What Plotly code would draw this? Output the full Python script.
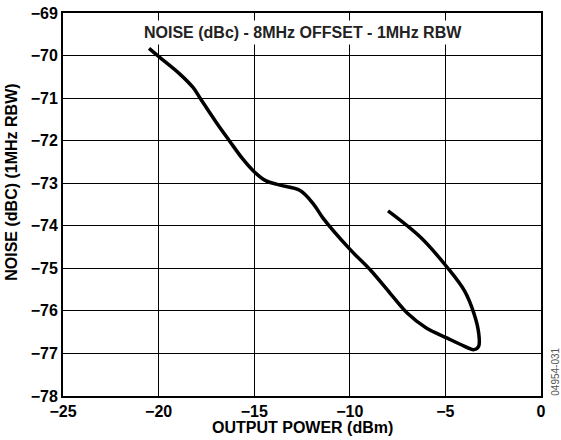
import plotly.graph_objects as go

# output power (dBm) and noise (dBc) in drawing order
power_dbm = [-20.5, -20.0, -18.9, -18.2, -17.8, -17.0, -16.3, -15.6, -15.0, -14.4,
             -13.7, -12.6, -11.9, -11.4, -10.0, -8.9, -7.9, -7.0, -6.0, -4.9,
             -4.2, -3.5, -3.26, -3.26, -3.5, -4.0, -4.9, -6.3, -8.0]
noise_dbc = [-69.83, -70.02, -70.43, -70.75, -71.02, -71.56, -72.0, -72.43, -72.73, -72.94,
             -73.04, -73.17, -73.49, -73.82, -74.55, -75.05, -75.58, -76.05, -76.40, -76.64,
             -76.79, -76.91, -76.83, -76.52, -76.07, -75.53, -74.98, -74.27, -73.65]

x_ticks = [-25, -20, -15, -10, -5, 0]
y_ticks = [-78, -77, -76, -75, -74, -73, -72, -71, -70, -69]

FONT = "Liberation Sans, Arial, sans-serif"
BOLD16 = dict(family=FONT, size=16, color='black', weight='bold')

fig = go.Figure()
fig.add_trace(go.Scatter(
    x=power_dbm, y=noise_dbc, mode='lines',
    line=dict(color='black', width=3.5, shape='spline', smoothing=1.0),
    hoverinfo='skip'
))

# boxed title inside the plot
fig.add_annotation(
    text="NOISE (dBc) - 8MHz OFFSET - 1MHz RBW",
    xref='paper', yref='paper', x=0.503, y=0.950, yanchor='middle',
    showarrow=False, bgcolor='white', borderpad=3,
    font=dict(BOLD16, color='#222')
)
# axis titles
fig.add_annotation(
    text="OUTPUT POWER (dBm)", xref='paper', yref='paper',
    x=0.5, y=-0.081, yanchor='middle', showarrow=False, font=BOLD16
)
fig.add_annotation(
    text="NOISE (dBC) (1MHz RBW)", textangle=-90, xref='paper', yref='paper',
    x=-0.107, y=0.559, xanchor='center', yanchor='middle', showarrow=False, font=BOLD16
)
# figure code
fig.add_annotation(
    text="04954-031", textangle=-90,
    xref='paper', yref='paper', x=1.031, y=0.063,
    xanchor='center', yanchor='middle', showarrow=False,
    font=dict(family=FONT, size=10, color='#555')
)

axis_common = dict(
    showgrid=True, gridcolor='black', gridwidth=1,
    showline=True, linecolor='black', linewidth=2, mirror=True,
    zeroline=False, ticks='', automargin=False,
    tickfont=BOLD16,
)

fig.update_layout(
    width=561, height=440,
    margin=dict(l=63, r=20, t=13, b=44),
    plot_bgcolor='white', paper_bgcolor='white',
    showlegend=False,
    xaxis=dict(axis_common, range=[-25, 0], tickvals=x_ticks),
    yaxis=dict(axis_common, range=[-78, -69], tickvals=y_ticks),
)

# drop the browser's default body margin so the figure sits at the page corner
fig.write_html("out.html", config={'displayModeBar': False},
               post_script="document.body.style.margin='0';")
